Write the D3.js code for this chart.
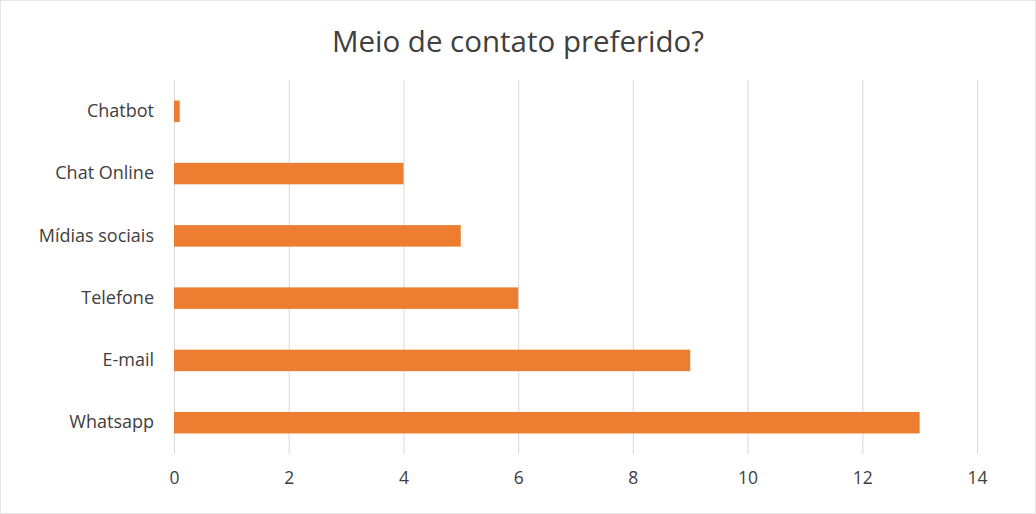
<!DOCTYPE html>
<html><head><meta charset="utf-8">
<script src="https://cdn.jsdelivr.net/npm/d3@7"></script>
<style>body{margin:0;background:#fff}svg{display:block}text{font-family:"Open Sans","Noto Sans",sans-serif}</style>
</head><body><svg id="c" width="1036" height="514"></svg>
<script>
const categories = ["Chatbot","Chat Online","Mídias sociais","Telefone","E-mail","Whatsapp"];
const values = [0.1, 4, 5, 6, 9, 13];
const xTicks = [0,2,4,6,8,10,12,14];
const title = "Meio de contato preferido?";

const svg = d3.select("#c");
const W = 1036, H = 514;
const m = {left:174, right:59, top:80, bottom:60};
svg.append("rect").attr("x",0.5).attr("y",0.5).attr("width",W-1).attr("height",H-1)
  .attr("fill","#fff").attr("stroke","#e6e6e6");

const x = d3.scaleLinear().domain([0,14]).range([m.left, W-m.right]);
const y = d3.scaleBand().domain(categories).range([m.top, H-m.bottom]).paddingInner(0.655).paddingOuter(0.33);

svg.append("text").attr("x",518).attr("y",52).attr("text-anchor","middle")
  .attr("font-size",29.5).attr("fill","#404040").text(title);

const gx = svg.append("g").attr("transform",`translate(0,${H-m.bottom})`)
  .call(d3.axisBottom(x).tickValues(xTicks).tickSize(-(H-m.bottom-m.top)).tickPadding(18));
gx.select(".domain").remove();
gx.selectAll(".tick line").attr("stroke","#d9d9d9");
gx.selectAll(".tick text").attr("font-size",17.5).attr("fill","#404040");

const gy = svg.append("g").attr("transform",`translate(${m.left},0)`)
  .call(d3.axisLeft(y).tickSize(0).tickPadding(20));
gy.select(".domain").remove();
gy.selectAll(".tick text").attr("font-size",18).attr("fill","#404040");

svg.append("g").selectAll("rect").data(categories).join("rect")
  .attr("x",x(0)).attr("y",d=>y(d)).attr("height",y.bandwidth())
  .attr("width",(d,i)=>x(values[i])-x(0)).attr("fill","#ED7D31");
</script></body></html>
